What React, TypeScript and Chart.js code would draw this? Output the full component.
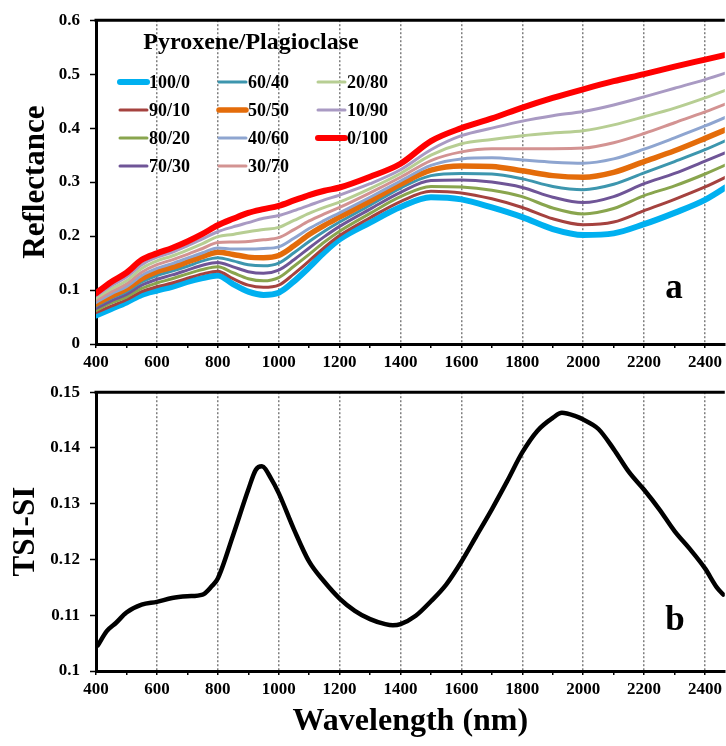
import React, { useEffect, useRef } from 'react';
import { Chart, registerables } from 'chart.js';

Chart.register(...registerables);

// ---------- DATA ----------
const wavelengths = [400, 450, 500, 550, 600, 650, 700, 750, 800, 850, 900, 950, 1000, 1050, 1100, 1150, 1200, 1300, 1400, 1500, 1600, 1700, 1800, 1900, 2000, 2100, 2200, 2300, 2400, 2500];

const seriesLabels = ['100/0', '90/10', '80/20', '70/30', '60/40', '50/50', '40/60', '30/70', '20/80', '10/90', '0/100'];

const r100_0 = [0.053, 0.065, 0.077, 0.091, 0.099, 0.106, 0.115, 0.122, 0.127, 0.111, 0.097, 0.091, 0.095, 0.116, 0.142, 0.170, 0.194, 0.225, 0.254, 0.272, 0.268, 0.253, 0.235, 0.213, 0.202, 0.205, 0.222, 0.243, 0.267, 0.302];
const r90_10 = [0.058, 0.070, 0.082, 0.097, 0.106, 0.113, 0.122, 0.130, 0.135, 0.121, 0.109, 0.105, 0.109, 0.130, 0.154, 0.179, 0.201, 0.234, 0.264, 0.283, 0.280, 0.269, 0.253, 0.232, 0.221, 0.226, 0.247, 0.268, 0.291, 0.318];
const r80_20 = [0.062, 0.076, 0.087, 0.103, 0.113, 0.121, 0.130, 0.138, 0.143, 0.132, 0.121, 0.117, 0.123, 0.144, 0.166, 0.189, 0.209, 0.242, 0.273, 0.292, 0.291, 0.285, 0.273, 0.252, 0.241, 0.251, 0.275, 0.293, 0.315, 0.340];
const r70_30 = [0.066, 0.080, 0.092, 0.109, 0.120, 0.128, 0.137, 0.146, 0.151, 0.143, 0.134, 0.131, 0.137, 0.156, 0.178, 0.199, 0.218, 0.250, 0.281, 0.303, 0.304, 0.300, 0.290, 0.272, 0.262, 0.273, 0.297, 0.316, 0.339, 0.362];
const r60_40 = [0.070, 0.085, 0.097, 0.115, 0.127, 0.135, 0.144, 0.154, 0.160, 0.154, 0.147, 0.145, 0.150, 0.169, 0.190, 0.209, 0.226, 0.257, 0.289, 0.312, 0.316, 0.315, 0.306, 0.292, 0.286, 0.296, 0.317, 0.338, 0.360, 0.385];
const r50_50 = [0.074, 0.089, 0.102, 0.121, 0.134, 0.142, 0.152, 0.162, 0.170, 0.166, 0.161, 0.160, 0.164, 0.182, 0.203, 0.220, 0.235, 0.265, 0.296, 0.322, 0.330, 0.329, 0.321, 0.312, 0.309, 0.318, 0.338, 0.358, 0.381, 0.405];
const r40_60 = [0.077, 0.093, 0.106, 0.127, 0.140, 0.149, 0.159, 0.169, 0.178, 0.176, 0.176, 0.177, 0.180, 0.196, 0.214, 0.229, 0.243, 0.272, 0.302, 0.331, 0.343, 0.345, 0.341, 0.337, 0.335, 0.343, 0.361, 0.382, 0.404, 0.428];
const r30_70 = [0.081, 0.097, 0.111, 0.133, 0.147, 0.156, 0.166, 0.177, 0.188, 0.189, 0.190, 0.193, 0.197, 0.212, 0.228, 0.241, 0.253, 0.280, 0.309, 0.340, 0.356, 0.362, 0.362, 0.362, 0.363, 0.373, 0.390, 0.410, 0.430, 0.452];
const r20_80 = [0.085, 0.102, 0.117, 0.140, 0.154, 0.163, 0.174, 0.186, 0.199, 0.203, 0.208, 0.212, 0.216, 0.229, 0.242, 0.253, 0.263, 0.288, 0.316, 0.350, 0.371, 0.379, 0.386, 0.391, 0.395, 0.406, 0.421, 0.437, 0.456, 0.477];
const r10_90 = [0.089, 0.108, 0.124, 0.147, 0.161, 0.170, 0.182, 0.195, 0.208, 0.217, 0.225, 0.233, 0.238, 0.247, 0.257, 0.267, 0.276, 0.297, 0.323, 0.360, 0.386, 0.400, 0.413, 0.423, 0.431, 0.443, 0.458, 0.474, 0.490, 0.508];
const r0_100 = [0.094, 0.115, 0.132, 0.156, 0.168, 0.178, 0.190, 0.204, 0.220, 0.232, 0.243, 0.250, 0.256, 0.266, 0.276, 0.284, 0.290, 0.310, 0.334, 0.376, 0.400, 0.418, 0.438, 0.456, 0.472, 0.487, 0.500, 0.514, 0.527, 0.540];

const seriesValues = [r100_0, r90_10, r80_20, r70_30, r60_40, r50_50, r40_60, r30_70, r20_80, r10_90, r0_100];

const tsiWavelengths = [406, 436, 467, 500, 550, 600, 650, 700, 750, 780, 800, 850, 900, 925, 945, 975, 1000, 1050, 1100, 1150, 1200, 1250, 1300, 1350, 1375, 1400, 1450, 1500, 1550, 1600, 1650, 1700, 1750, 1800, 1850, 1900, 1930, 1975, 2000, 2050, 2100, 2150, 2200, 2250, 2300, 2350, 2400, 2440, 2460];
const tsiValues = [0.1046, 0.1072, 0.1087, 0.1105, 0.1119, 0.1124, 0.1131, 0.1134, 0.1137, 0.1152, 0.1166, 0.1243, 0.1325, 0.1361, 0.1367, 0.1345, 0.1319, 0.1254, 0.1196, 0.1160, 0.1130, 0.1108, 0.1093, 0.1084, 0.1082, 0.1084, 0.1099, 0.1125, 0.1155, 0.1196, 0.1243, 0.1290, 0.1340, 0.1392, 0.1431, 0.1454, 0.1463, 0.1457, 0.1451, 0.1434, 0.1398, 0.1357, 0.1325, 0.1290, 0.1251, 0.1219, 0.1184, 0.1149, 0.1137];

const legendTitle = 'Pyroxene/Plagioclase';

// ---------- STYLES ----------
const seriesColors = ['#00B0F0', '#A5423F', '#89A54E', '#6F5597', '#3D96AE', '#E46C0A', '#8EA5D0', '#D39392', '#B7CE93', '#A99AC3', '#FF0000'];
const seriesWidths = [6, 3, 3, 3, 3, 5.5, 3, 3, 3, 3, 6];
const serif = "'Liberation Serif', 'Times New Roman', serif";

function xAxis(height: number, withTitle: boolean) {
  return {
    type: 'linear',
    min: 400,
    max: 2465,
    afterFit: (s: any) => { s.height = height; },
    ticks: {
      stepSize: 100,
      includeBounds: false,
      autoSkip: false,
      maxRotation: 0,
      minRotation: 0,
      padding: 4,
      color: '#000',
      font: { family: serif, size: 17, weight: 'bold' },
      callback: (v: any) => (Number(v) % 200 === 0 ? String(v) : ''),
    },
    grid: {
      color: (c: any) => (c.tick && c.tick.value % 200 === 0 ? '#7f7f7f' : 'rgba(0,0,0,0)'),
      lineWidth: 1.5,
      drawTicks: true,
      tickLength: 4,
      tickColor: '#000',
      tickWidth: 1.5,
    },
    border: { display: true, color: '#000', width: 3, dash: [2, 2] },
    title: withTitle
      ? { display: true, text: 'Wavelength (nm)', color: '#000', font: { family: serif, size: 32, weight: 'bold' }, padding: { top: 0, bottom: 5 } }
      : { display: false },
  };
}

function yAxis(min: number, max: number, step: number, digits: number, title: string, titlePad: number) {
  const f = Math.pow(10, digits);
  return {
    type: 'linear',
    min,
    max,
    afterFit: (s: any) => { s.width = 96; },
    ticks: {
      stepSize: step,
      padding: 10,
      color: '#000',
      font: { family: serif, size: 17, weight: 'bold' },
      callback: (v: any) => String(Math.round(Number(v) * f) / f),
    },
    grid: { drawOnChartArea: false, drawTicks: true, tickLength: 6, tickColor: '#000', tickWidth: 1.5, color: '#000' },
    border: { display: true, color: '#000', width: 3 },
    title: { display: true, text: title, color: '#000', font: { family: serif, size: 31, weight: 'bold' }, padding: { top: titlePad, bottom: 0 } },
  };
}

function framePlugin(letter: string, letterX: number, letterY: number, withLegend: boolean) {
  return {
    id: 'frame' + letter,
    afterDraw(chart: any) {
      const { ctx, chartArea } = chart;
      ctx.save();
      ctx.strokeStyle = '#000';
      ctx.lineWidth = 3;
      ctx.beginPath();
      ctx.moveTo(chartArea.left - 1.5, chartArea.top);
      ctx.lineTo(chartArea.right, chartArea.top);
      ctx.stroke();
      ctx.fillStyle = '#000';
      ctx.font = `bold 35px ${serif}`;
      ctx.textAlign = 'center';
      ctx.textBaseline = 'alphabetic';
      ctx.fillText(letter, letterX, letterY);
      if (withLegend) {
        ctx.font = `bold 24px ${serif}`;
        ctx.fillText(legendTitle, 251, 49);
        const colX = [118, 217, 316];
        const rowY = [82, 110, 138, 166];
        const lineLen = 30;
        chart.data.datasets.forEach((ds: any, i: number) => {
          const x = colX[Math.floor(i / 4)];
          const y = rowY[i % 4];
          ctx.strokeStyle = ds.borderColor;
          ctx.lineWidth = ds.borderWidth;
          ctx.lineCap = 'round';
          ctx.beginPath();
          ctx.moveTo(x + 2, y);
          ctx.lineTo(x + lineLen - 1, y);
          ctx.stroke();
          ctx.fillStyle = '#000';
          ctx.font = `bold 18px ${serif}`;
          ctx.textAlign = 'left';
          ctx.textBaseline = 'middle';
          ctx.fillText(ds.label, x + lineLen + 1, y + 1);
        });
      }
      ctx.restore();
    },
  };
}

export default function App() {
  const topRef = useRef<HTMLCanvasElement | null>(null);
  const botRef = useRef<HTMLCanvasElement | null>(null);

  useEffect(() => {
    const top = new Chart(topRef.current as HTMLCanvasElement, {
      type: 'line',
      data: {
        datasets: seriesLabels.map((label, k) => ({
          label,
          data: wavelengths.map((w, i) => ({ x: w, y: seriesValues[k][i] })),
          borderColor: seriesColors[k],
          backgroundColor: seriesColors[k],
          borderWidth: seriesWidths[k],
          borderCapStyle: 'round',
          borderJoinStyle: 'round',
          pointRadius: 0,
          cubicInterpolationMode: 'monotone',
          fill: false,
          order: seriesLabels.length - k,
        })),
      },
      options: {
        responsive: false,
        maintainAspectRatio: false,
        animation: false,
        layout: { padding: { top: 13, left: 0, right: 0, bottom: 0 } },
        plugins: { legend: { display: false }, tooltip: { enabled: false }, title: { display: false } },
        scales: {
          x: xAxis(28, false),
          y: yAxis(0, 0.6, 0.1, 1, 'Reflectance', 17),
        },
      } as any,
      plugins: [framePlugin('a', 674, 298, true)],
    } as any);

    const bot = new Chart(botRef.current as HTMLCanvasElement, {
      type: 'line',
      data: {
        datasets: [
          {
            label: 'TSI-SI',
            data: tsiWavelengths.map((w, i) => ({ x: w, y: tsiValues[i] })),
            borderColor: '#000',
            backgroundColor: '#000',
            borderWidth: 4.5,
            borderCapStyle: 'round',
            borderJoinStyle: 'round',
            pointRadius: 0,
            cubicInterpolationMode: 'monotone',
            fill: false,
          },
        ],
      },
      options: {
        responsive: false,
        maintainAspectRatio: false,
        animation: false,
        layout: { padding: { top: 16, left: 0, right: 0, bottom: 0 } },
        plugins: { legend: { display: false }, tooltip: { enabled: false }, title: { display: false } },
        scales: {
          x: xAxis(75, true),
          y: yAxis(0.1, 0.15, 0.01, 2, 'TSI-SI', 7),
        },
      } as any,
      plugins: [framePlugin('b', 675, 258, false)],
    } as any);

    return () => {
      top.destroy();
      bot.destroy();
    };
  }, []);

  return (
    <div style={{ position: 'absolute', left: 0, top: 0, width: 726, height: 746, background: '#fff', overflow: 'hidden' }}>
      <canvas ref={topRef} width={726} height={372} style={{ position: 'absolute', left: 0, top: 0, display: 'block' }} />
      <canvas ref={botRef} width={726} height={374} style={{ position: 'absolute', left: 0, top: 372, display: 'block' }} />
    </div>
  );
}
